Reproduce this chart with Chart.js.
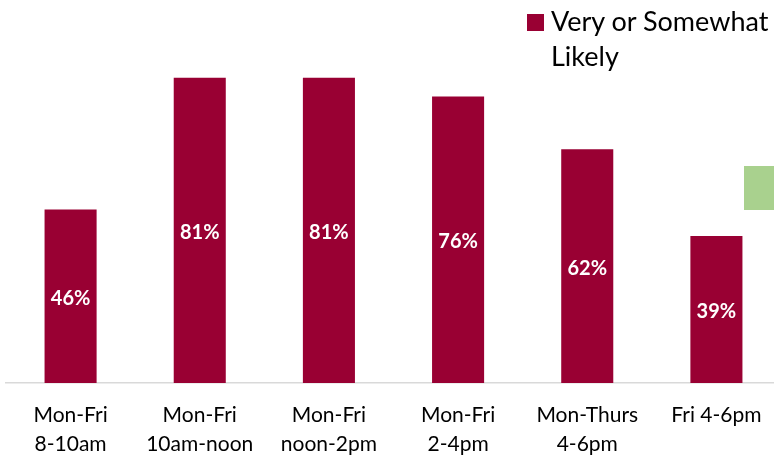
<!DOCTYPE html>
<html>
<head>
<meta charset="utf-8">
<script src="https://cdn.jsdelivr.net/npm/chart.js@4/dist/chart.umd.min.js"></script>
<style>
  html, body { margin: 0; padding: 0; background: #fff; overflow: hidden; }
  #wrap { position: relative; width: 781px; height: 477px; }
  #legend {
    position: absolute; left: 527px; top: 3px; width: 260px;
    font-family: Lato, "Open Sans", sans-serif; font-size: 27px; line-height: 35px; color: #000;
  }
  #legend .box {
    position: absolute; left: 0; top: 11px; width: 17px; height: 17px; background: #990033;
  }
  #legend .txt { margin-left: 24px; width: 240px; }
  #stub {
    position: absolute; left: 744px; top: 166px; width: 30px; height: 44px; background: #a9d18e;
  }
</style>
</head>
<body>
<div id="wrap">
  <canvas id="chart"></canvas>
  <div id="legend"><div class="box"></div><div class="txt" id="legendText"></div></div>
  <div id="stub"></div>
</div>
<script>
(function () {
    "use strict";

    const categories = [
        ["Mon-Fri", "8-10am"],
        ["Mon-Fri", "10am-noon"],
        ["Mon-Fri", "noon-2pm"],
        ["Mon-Fri", "2-4pm"],
        ["Mon-Thurs", "4-6pm"],
        "Fri 4-6pm",
    ];
    const likely = [46, 81, 81, 76, 62, 39];
    const seriesName = "Very or Somewhat Likely";

    document.getElementById("legendText").textContent = seriesName;

    // white value labels in the middle of each bar
    const barLabels = {
        id: "barLabels",
        afterDatasetsDraw(chart) {
            const ctx = chart.ctx;
            const meta = chart.getDatasetMeta(0);
            ctx.save();
            ctx.fillStyle = "#ffffff";
            ctx.font = "bold 20px Lato, 'Open Sans', sans-serif";
            ctx.textAlign = "center";
            ctx.textBaseline = "middle";
            meta.data.forEach((bar, i) => {
                const mid = (bar.y + bar.base) / 2;
                ctx.fillText(likely[i] + "%", bar.x, mid + 2);
            });
            ctx.restore();
        },
    };

    new Chart(document.getElementById("chart"), {
        type: "bar",
        data: {
            labels: categories,
            datasets: [
                {
                    label: seriesName,
                    data: likely,
                    backgroundColor: "#990033",
                    categoryPercentage: 0.403,
                    barPercentage: 1,
                },
            ],
        },
        options: {
            responsive: true,
            maintainAspectRatio: false,
            animation: false,
            layout: { padding: { left: 6, right: 0, top: 6, bottom: 0 } },
            plugins: {
                legend: { display: false },
                tooltip: { enabled: false },
            },
            scales: {
                x: {
                    grid: { display: false, drawTicks: false },
                    border: { display: true, color: "#d9d9d9", width: 1.5 },
                    ticks: {
                        color: "#000",
                        padding: 18,
                        maxRotation: 0,
                        autoSkip: false,
                        font: { family: "Lato, 'Open Sans', sans-serif", size: 21, lineHeight: 1.38 },
                    },
                },
                y: {
                    display: false,
                    min: 0,
                    max: 100,
                },
            },
        },
        plugins: [barLabels],
    });
})();
</script>
</body>
</html>
